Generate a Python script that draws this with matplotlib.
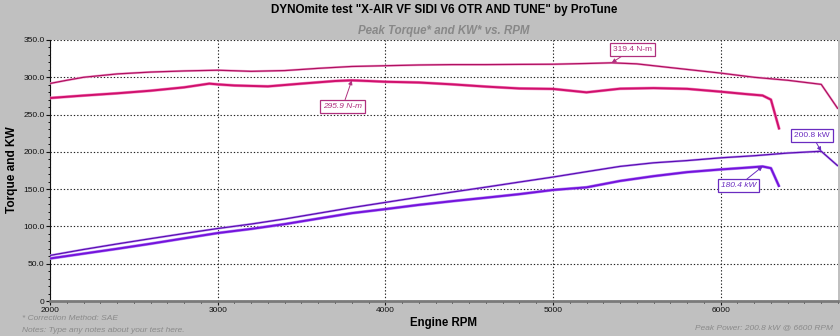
import matplotlib
matplotlib.use("Agg")
import matplotlib.pyplot as plt
from matplotlib.ticker import MultipleLocator, FixedLocator

plt.rcParams['font.family'] = ['Liberation Sans', 'DejaVu Sans']

# Run A (upper curves): torque and power
rpm_tq_a = [2000, 2100, 2200, 2400, 2600, 2800, 3000, 3200, 3400, 3600, 3800, 4000,
            4200, 4400, 4600, 4800, 5000, 5200, 5350, 5500, 5700, 6000, 6200, 6400,
            6600, 6700]
torque_a = [291.7, 296.0, 300.0, 304.5, 307.0, 308.5, 309.5, 308.0, 309.0, 312.0,
            314.5, 315.5, 316.5, 317.0, 317.0, 317.3, 317.5, 318.5, 319.4, 318.0,
            313.0, 305.6, 300.0, 296.0, 290.5, 257.6]

rpm_kw_a = [2000, 2200, 2400, 2600, 2800, 3000, 3200, 3400, 3600, 3800, 4000, 4200,
            4400, 4600, 4800, 5000, 5200, 5400, 5600, 5800, 6000, 6200, 6400, 6600,
            6700]
power_a = [61.1, 69.1, 76.5, 83.6, 90.5, 97.2, 103.2, 110.0, 117.6, 125.2, 132.2,
           139.2, 146.1, 152.7, 159.5, 166.2, 173.4, 180.5, 185.3, 188.3, 192.0,
           194.8, 198.4, 200.8, 181.0]

# Run B (lower curves): torque and power
rpm_tq_b = [2000, 2200, 2400, 2600, 2800, 2950, 3000, 3100, 3300, 3500, 3700, 3800,
            3900, 4000, 4200, 4400, 4600, 4800, 5000, 5200, 5400, 5600, 5800, 6000,
            6150, 6250, 6300, 6350]
torque_b = [272.2, 275.5, 278.5, 282.0, 286.5, 291.5, 290.5, 289.0, 287.8, 291.5,
            295.0, 295.9, 295.0, 294.0, 293.0, 290.5, 287.5, 285.0, 284.4, 279.8,
            284.7, 285.5, 284.5, 280.7, 277.5, 275.6, 270.0, 230.0]

rpm_kw_b = [2000, 2200, 2400, 2600, 2800, 3000, 3200, 3400, 3600, 3800, 4000, 4200,
            4400, 4600, 4800, 5000, 5200, 5400, 5600, 5800, 6000, 6150, 6250, 6300,
            6350]
power_b = [57.0, 63.5, 70.0, 76.8, 84.0, 91.1, 96.7, 103.1, 110.5, 117.8, 123.2,
           128.9, 133.9, 138.5, 143.3, 148.9, 152.4, 161.0, 167.4, 172.8, 176.4,
           178.7, 180.4, 178.1, 153.0]

# Peak callouts: (rpm, value, label)
peak_tq_a = (5350, 319.4, "319.4 N-m")
peak_tq_b = (3800, 295.9, "295.9 N-m")
peak_kw_a = (6600, 200.8, "200.8 kW")
peak_kw_b = (6250, 180.4, "180.4 kW")

y_ticks = [0, 50, 100, 150, 200, 250, 300, 350]
y_tick_labels = ["0", "50.0", "100.0", "150.0", "200.0", "250.0", "300.0", "350.0"]
x_ticks = [2000, 3000, 4000, 5000, 6000]

BG = '#c0c0c0'
fig = plt.figure(figsize=(8.4, 3.36), dpi=100, facecolor=BG)
ax = fig.add_axes([50 / 840, 35 / 336, 788 / 840, 261 / 336])
ax.set_facecolor('white')

TQ_A, TQ_B = '#b0105f', '#d0106c'
KW_A, KW_B = '#5c0cb4', '#7412dc'

def draw(x, y, color, halo, lw):
    ax.plot(x, y, color=halo, lw=lw + 0.8, solid_capstyle='butt', zorder=3)
    ax.plot(x, y, color=color, lw=lw, solid_capstyle='butt', zorder=4)

draw(rpm_tq_a, torque_a, TQ_A, '#f2a6d2', 0.9)
draw(rpm_tq_b, torque_b, TQ_B, '#f48cc4', 1.4)
draw(rpm_kw_a, power_a, KW_A, '#c6a6f2', 0.9)
draw(rpm_kw_b, power_b, KW_B, '#b88cf4', 1.4)

ax.set_xlim(2000, 6700)
ax.set_ylim(0, 350)

ax.yaxis.set_major_locator(FixedLocator(y_ticks))
ax.set_yticklabels(y_tick_labels)
ax.yaxis.set_minor_locator(MultipleLocator(10))
ax.xaxis.set_major_locator(FixedLocator(x_ticks))
ax.xaxis.set_minor_locator(MultipleLocator(100))

ax.grid(True, which='major', linestyle=(0, (1.2, 1.8)), color='#222222', lw=0.8)
ax.tick_params(axis='both', which='major', labelsize=6, colors='#111111', length=3,
               width=0.8, pad=1)
ax.tick_params(axis='both', which='minor', length=1.5, width=0.7, colors='#111111')
ax.tick_params(axis='x', which='both', direction='out')

for s in ('top', 'right'):
    ax.spines[s].set_visible(False)
ax.spines['left'].set_color('#111111')
ax.spines['left'].set_linewidth(0.8)
ax.spines['bottom'].set_color('#7a7a7a')
ax.spines['bottom'].set_linewidth(2.0)

def callout(peak, text_xy, color, italic):
    ax.annotate(peak[2], xy=(peak[0], peak[1]), xytext=text_xy,
                textcoords='data', ha='center', va='center', fontsize=6,
                style='italic' if italic else 'normal', color=color, zorder=6,
                bbox=dict(boxstyle='square,pad=0.35', fc='white', ec=color, lw=0.9),
                arrowprops=dict(arrowstyle='-|>', color=color, lw=0.7,
                                mutation_scale=6, shrinkA=0, shrinkB=0))

callout(peak_tq_a, (5472, 337.3), '#b0307e', False)
callout(peak_tq_b, (3746, 260.7), '#b0307e', True)
callout(peak_kw_a, (6546, 222.0), '#6a2cc0', False)
callout(peak_kw_b, (6106, 154.4), '#6a2cc0', True)

fig.text(444 / 840, 1 - 10 / 336, 'DYNOmite test "X-AIR VF SIDI V6 OTR AND TUNE" by ProTune',
         ha='center', va='center', fontsize=8.4, fontweight='bold', color='black')
fig.text(444 / 840, 1 - 31 / 336, 'Peak Torque* and KW* vs. RPM', ha='center', va='center',
         fontsize=8.3, fontweight='bold', style='italic', color='#888888')
fig.text(12 / 840, 1 - 170 / 336, 'Torque and KW', rotation=90, ha='center', va='center',
         fontsize=8.6, fontweight='bold', color='black')
fig.text(444 / 840, 1 - 323 / 336, 'Engine RPM', ha='center', va='center',
         fontsize=8.3, fontweight='bold', color='black')
fig.text(22 / 840, 1 - 319 / 336, '* Correction Method: SAE', ha='left', va='center',
         fontsize=6, style='italic', color='#8a8a8a')
fig.text(22 / 840, 1 - 331 / 336, 'Notes: Type any notes about your test here.', ha='left',
         va='center', fontsize=6, style='italic', color='#8a8a8a')
fig.text(833 / 840, 1 - 328 / 336, 'Peak Power: 200.8 kW @ 6600 RPM', ha='right',
         va='center', fontsize=6, style='italic', color='#8a8a8a')

fig.savefig('out.png', dpi=100, facecolor=BG)
